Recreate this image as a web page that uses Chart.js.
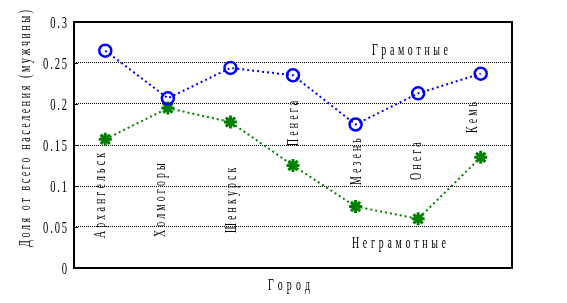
<!DOCTYPE html>
<html>
<head>
<meta charset="utf-8">
<script src="https://cdn.jsdelivr.net/npm/chart.js@4"></script>
<style>
  html, body { margin: 0; padding: 0; background: #fff; }
  #wrap { position: relative; width: 567px; height: 303px; }
</style>
</head>
<body>
<div id="wrap"><canvas id="chart" width="567" height="303"></canvas></div>
<script>
// данные
const cities = ['Архангельск', 'Холмогоры', 'Шенкурск', 'Пенега', 'Мезень', 'Онега', 'Кемь'];
const literate = [0.265, 0.207, 0.244, 0.235, 0.175, 0.213, 0.237];
const illiterate = [0.157, 0.195, 0.178, 0.125, 0.075, 0.060, 0.135];
const yTicks = [0, 0.05, 0.1, 0.15, 0.2, 0.25, 0.3];

// подписи городов: сдвиг базовой линии от точки и нижний край текста
const labelShift = [0, -3, 6, 5, 5, 3, -4];
const labelStart = [238, 237, 233, 146, 185, 180, 133];

const FONT = '"Liberation Serif", "DejaVu Serif", serif';

// текст узкими буквами с разрядкой, как в оригинале
function spaced(ctx, text, x, y, o) {
  const sx = o.sx || 0.62;
  ctx.save();
  ctx.font = (o.size || 16) + 'px ' + FONT;
  ctx.textBaseline = 'alphabetic';
  ctx.textAlign = 'left';
  ctx.translate(x, y);
  if (o.rotate) ctx.rotate(o.rotate);
  const chars = Array.from(text);
  const w = chars.map(c => ctx.measureText(c).width * sx);
  const sum = w.reduce((s, v) => s + v, 0);
  let gap = o.gap != null ? o.gap : 2;
  if (o.len) gap = (o.len - sum) / (chars.length - 1);
  const total = sum + gap * (chars.length - 1);
  let pos = o.align === 'center' ? -total / 2 : o.align === 'right' ? -total : 0;
  chars.forEach((c, i) => {
    ctx.save();
    ctx.translate(pos, 0);
    ctx.scale(sx, 1);
    ctx.fillText(c, 0, 0);
    ctx.restore();
    pos += w[i] + gap;
  });
  ctx.restore();
}

const textPlugin = {
  id: 'texts',
  afterDatasetsDraw(chart) {
    const { ctx, chartArea: a, scales } = chart;
    ctx.save();
    ctx.fillStyle = '#000';
    // подписи городов, повернутые
    cities.forEach((c, i) => {
      const x = scales.x.getPixelForValue(i) + labelShift[i];
      spaced(ctx, c, x, labelStart[i], { rotate: -Math.PI / 2, gap: 3.1 });
    });
    spaced(ctx, 'Грамотные', 372, 55, { len: 76 });
    spaced(ctx, 'Неграмотные', 352, 248, { len: 94 });
    spaced(ctx, 'Город', 268, 290, { len: 42 });
    spaced(ctx, 'Доля от всего населения (мужчины)', 30, 247,
      { rotate: -Math.PI / 2, len: 237 });
    // подписи оси y и короткие засечки внутрь
    ctx.strokeStyle = '#000';
    ctx.lineWidth = 1;
    yTicks.forEach(v => {
      const y = Math.round(scales.y.getPixelForValue(v));
      spaced(ctx, String(v), 67, y + 6, { align: 'right', gap: 1.8, sx: 0.66 });
      ctx.beginPath();
      ctx.moveTo(a.left, y + 0.5);
      ctx.lineTo(a.left + 4, y + 0.5);
      ctx.stroke();
    });
    // рамка
    ctx.lineWidth = 2;
    ctx.strokeRect(a.left, a.top, a.right - a.left, a.bottom - a.top);
    ctx.restore();
  }
};

new Chart(document.getElementById('chart'), {
  type: 'line',
  data: {
    labels: cities,
    datasets: [
      {
        label: 'Грамотные',
        data: literate,
        borderColor: '#0000ff',
        borderWidth: 2,
        borderDash: [2, 3],
        pointStyle: 'circle',
        pointRadius: 6,
        pointBorderWidth: 2.5,
        pointBorderColor: '#0000ff',
        pointBackgroundColor: 'rgba(0,0,0,0)',
        tension: 0
      },
      {
        label: 'Неграмотные',
        data: illiterate,
        borderColor: '#008000',
        borderWidth: 2,
        borderDash: [2, 3],
        pointStyle: 'star',
        pointRadius: 6.5,
        pointBorderWidth: 3,
        pointBorderColor: '#008000',
        pointBackgroundColor: '#008000',
        tension: 0
      }
    ]
  },
  options: {
    responsive: false,
    animation: false,
    layout: { padding: { top: 22, right: 55, left: 0, bottom: 0 } },
    plugins: { legend: { display: false }, tooltip: { enabled: false } },
    scales: {
      x: {
        offset: true,
        grid: { display: false },
        border: { display: false },
        ticks: { display: false },
        afterFit(s) { s.height = 35; }
      },
      y: {
        min: 0,
        max: 0.3,
        afterBuildTicks(s) { s.ticks = yTicks.map(v => ({ value: v })); },
        grid: {
          color: '#000',
          lineWidth: 1,
          drawTicks: false
        },
        border: { display: false, dash: [1, 1] },
        ticks: { display: false },
        afterFit(s) { s.width = 74; }
      }
    }
  },
  plugins: [textPlugin]
});
</script>
</body>
</html>
